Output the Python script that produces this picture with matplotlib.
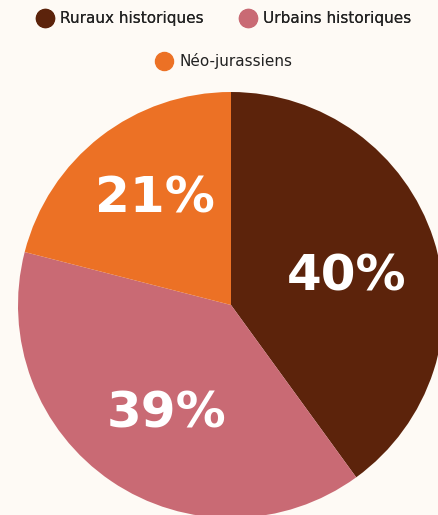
import matplotlib.pyplot as plt
from matplotlib.lines import Line2D

# data
categories = ["Ruraux historiques", "Urbains historiques", "Néo-jurassiens"]
shares = [40, 39, 21]
colors = ["#5C230B", "#C96A74", "#EC7125"]
bg = "#FEFAF5"

W, H = 438, 515
cx, cy, r = 231, 305, 213

fig = plt.figure(figsize=(W / 100, H / 100), dpi=100, facecolor=bg)
ax = fig.add_axes([0, 0, 1, 1])
ax.set_facecolor(bg)

wedges, texts, autotexts = ax.pie(
    shares, colors=colors, startangle=90, counterclock=False,
    autopct="%d%%", pctdistance=0.57, radius=1,
    wedgeprops=dict(linewidth=0),
    textprops=dict(color="white", fontsize=36, fontweight="bold", family="DejaVu Sans"),
)
# small nudges of the percentage labels
nudges = [(0.0, -0.04), (0.02, -0.04), (-0.01, 0.05)]
for t, (dx, dy) in zip(autotexts, nudges):
    x, y = t.get_position()
    t.set_position((x + dx, y + dy))

# place the pie like in the reference (partly cut off on the right and bottom)
ax.set_aspect("auto")
ax.set_xlim((0 - cx) / r, (W - cx) / r)
ax.set_ylim((cy - H) / r, cy / r)
ax.axis("off")

handles = [Line2D([], [], marker="o", linestyle="", markersize=13,
                  markerfacecolor=c, markeredgecolor=c) for c in colors]

leg1 = fig.legend(handles[:2], categories[:2], loc="center", ncol=2,
                  bbox_to_anchor=(0.51, 1 - 19 / H), frameon=False,
                  prop=dict(family="DejaVu Sans", size=11), handletextpad=0.4,
                  columnspacing=2.3, handlelength=1.2, labelcolor="#222222")
leg2 = fig.legend(handles[2:], categories[2:], loc="center",
                  bbox_to_anchor=(0.51, 1 - 61 / H), frameon=False,
                  prop=dict(family="DejaVu Sans", size=11), handletextpad=0.4,
                  handlelength=1.2, labelcolor="#222222")
fig.add_artist(leg1)

fig.savefig("out.png", dpi=100, facecolor=bg)
